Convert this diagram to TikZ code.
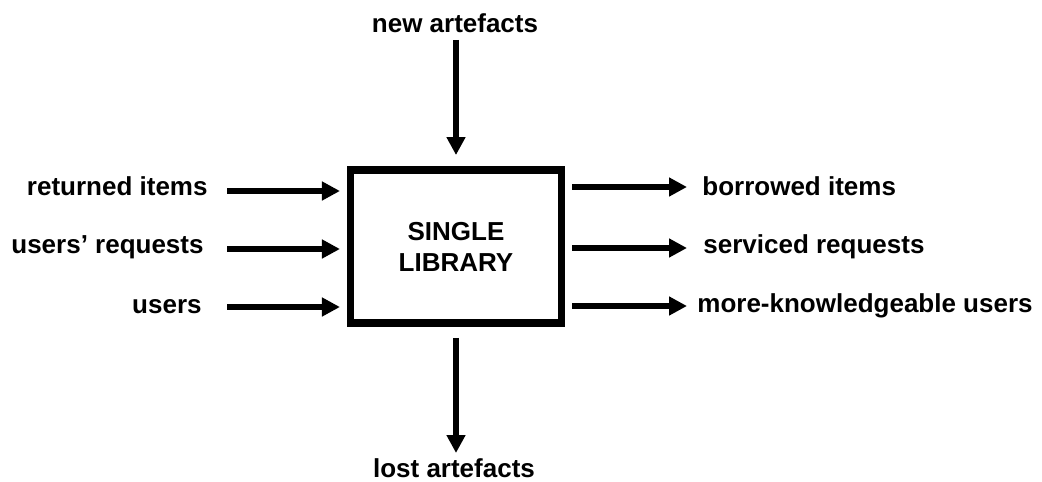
\documentclass[tikz,border=0pt]{standalone}
\usepackage{fontspec}
\setmainfont{Liberation Sans}
\usetikzlibrary{arrows.meta}
\tikzset{
flow/.style={line width=2.8pt, -{Triangle[length=9pt,width=9pt]}},
lbl/.style={inner sep=0pt, font=\fontsize{13pt}{15.5pt}\selectfont\bfseries},
libbox/.style={draw, line width=3.75pt, outer sep=1.875pt, inner sep=0pt,
  minimum width=105.5pt, minimum height=76.5pt, align=center,
  font=\fontsize{13pt}{15.5pt}\selectfont\bfseries}
}
\begin{document}
\begin{tikzpicture}[x=0.5pt, y=-0.5pt]
\useasboundingbox (0,0) rectangle (1042,481);
\node[libbox] (lib) at (456,246.5) {SINGLE\\LIBRARY};

% labels
\node[lbl, anchor=base] (na) at (455,33) {new artefacts};
\node[lbl, anchor=base] (la) at (454,477) {lost artefacts};
\node[lbl, anchor=base east] (ri) at (208,195) {returned items};
\node[lbl, anchor=base east] (ur) at (204,253) {users’ requests};
\node[lbl, anchor=base east] (us) at (202,313) {users};
\node[lbl, anchor=base west] (bi) at (702,195) {borrowed items};
\node[lbl, anchor=base west] (sr) at (703,253) {serviced requests};
\node[lbl, anchor=base west] (mk) at (697,312) {more-knowledgeable users};

% free arrow ends
\coordinate (nat) at (456,40);
\coordinate (lah) at (456,453);
\foreach \n/\y in {in1/191, in2/249, in3/307} \coordinate (\n) at (227,\y);
\foreach \n/\y in {out1/187, out2/248, out3/306} \coordinate (\n) at (687,\y);

\draw[flow, shorten >=5.6pt] (nat) -- (lib.north);
\draw[flow, shorten <=5.6pt] (lib.south) -- (lah);
\foreach \n in {in1,in2,in3} \draw[flow, shorten >=3.4pt] (\n) -- (lib.west |- \n);
\foreach \n in {out1,out2,out3} \draw[flow, shorten <=3.4pt] (lib.east |- \n) -- (\n);
\end{tikzpicture}
\end{document}
